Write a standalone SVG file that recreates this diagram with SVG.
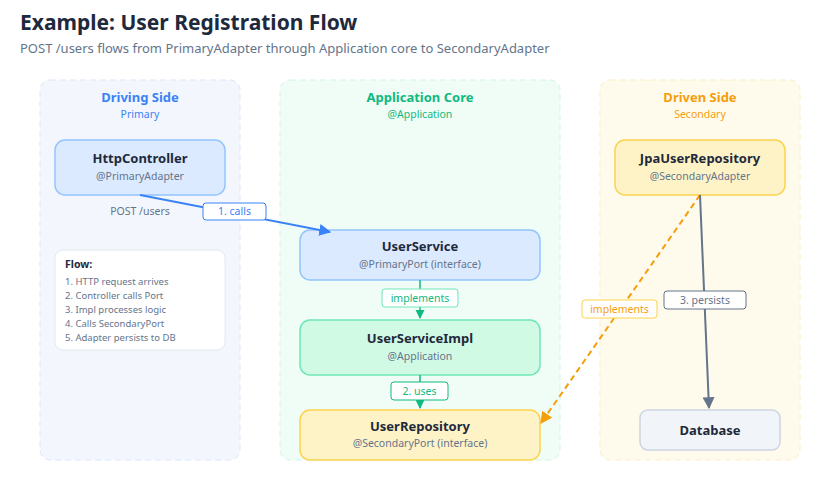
<svg xmlns="http://www.w3.org/2000/svg" width="821" height="481" viewBox="0 0 821 481">
<style>
text{font-family:"Noto Sans","Open Sans",sans-serif}
.t{font-size:13px;font-weight:bold;fill:#1e293b;text-anchor:middle}
.s{font-size:10.5px;fill:#64748b;text-anchor:middle}
.lb{fill:#fff;stroke-width:1}
.lt{font-size:10.5px;text-anchor:middle}
</style>
<defs>
<marker id="mb" viewBox="0 0 10 10" refX="9" refY="5" markerWidth="6" markerHeight="6" orient="auto"><path d="M0,0L10,5L0,10z" fill="#3b82f6"/></marker>
<marker id="mg" viewBox="0 0 10 10" refX="9" refY="5" markerWidth="6" markerHeight="7" orient="auto"><path d="M0,0L10,5L0,10z" fill="#10b981"/></marker>
<marker id="mo" viewBox="0 0 10 10" refX="9" refY="5" markerWidth="6" markerHeight="6" orient="auto"><path d="M0,0L10,5L0,10z" fill="#f59e0b"/></marker>
<marker id="ms" viewBox="0 0 10 10" refX="9" refY="5" markerWidth="6" markerHeight="6" orient="auto"><path d="M0,0L10,5L0,10z" fill="#64748b"/></marker>
</defs>
<rect width="821" height="481" fill="#fff"/>
<text x="20" y="30" style="font-size:21px;font-weight:bold;fill:#1e293b">Example: User Registration Flow</text>
<text x="20" y="53" style="font-size:13px;fill:#64748b">POST /users flows from PrimaryAdapter through Application core to SecondaryAdapter</text>

<g id="driving">
<rect x="40" y="80" width="200" height="380" rx="10" fill="#f3f7fd" stroke="#dbe7f8" stroke-dasharray="6 4"/>
<text x="140" y="102" class="t" style="fill:#3b82f6">Driving Side</text>
<text x="140" y="118" class="s" style="fill:#3b82f6">Primary</text>
</g>
<g id="core">
<rect x="280" y="80" width="280" height="380" rx="10" fill="#f0fdf6" stroke="#d1f5e4" stroke-dasharray="6 4"/>
<text x="420" y="102" class="t" style="fill:#10b981">Application Core</text>
<text x="420" y="118" class="s" style="fill:#10b981">@Application</text>
</g>
<g id="driven">
<rect x="600" y="80" width="200" height="380" rx="10" fill="#fefbed" stroke="#fbeec5" stroke-dasharray="6 4"/>
<text x="700" y="102" class="t" style="fill:#f59e0b">Driven Side</text>
<text x="700" y="118" class="s" style="fill:#f59e0b">Secondary</text>
</g>

<g id="HttpController">
<rect x="55" y="140" width="170" height="55" rx="10" fill="#dbeafe" stroke="#93c5fd" stroke-width="1.5"/>
<text x="140" y="163" class="t">HttpController</text>
<text x="140" y="180" class="s">@PrimaryAdapter</text>
</g>
<text x="140" y="215" class="s">POST /users</text>
<g id="flow">
<rect x="55" y="250" width="170" height="100" rx="8" fill="#fff" stroke="#e2e8f0"/>
<text x="65" y="268" style="font-size:10.5px;font-weight:bold;fill:#1e293b">Flow:</text>
<text x="65" y="285" style="font-size:9.5px;fill:#64748b">1. HTTP request arrives</text>
<text x="65" y="299" style="font-size:9.5px;fill:#64748b">2. Controller calls Port</text>
<text x="65" y="313" style="font-size:9.5px;fill:#64748b">3. Impl processes logic</text>
<text x="65" y="327" style="font-size:9.5px;fill:#64748b">4. Calls SecondaryPort</text>
<text x="65" y="341" style="font-size:9.5px;fill:#64748b">5. Adapter persists to DB</text>
</g>
<g id="UserService">
<rect x="300" y="230" width="240" height="50" rx="10" fill="#dbeafe" stroke="#93c5fd" stroke-width="1.5"/>
<text x="420" y="251" class="t">UserService</text>
<text x="420" y="268" class="s">@PrimaryPort (interface)</text>
</g>
<g id="UserServiceImpl">
<rect x="300" y="320" width="240" height="55" rx="10" fill="#d1fae5" stroke="#6ee7b7" stroke-width="1.5"/>
<text x="420" y="343" class="t">UserServiceImpl</text>
<text x="420" y="360" class="s">@Application</text>
</g>
<g id="UserRepository">
<rect x="300" y="410" width="240" height="50" rx="10" fill="#fef3c7" stroke="#fcd34d" stroke-width="1.5"/>
<text x="420" y="431" class="t">UserRepository</text>
<text x="420" y="447" class="s">@SecondaryPort (interface)</text>
</g>
<g id="JpaUserRepository">
<rect x="615" y="140" width="170" height="55" rx="10" fill="#fef3c7" stroke="#fcd34d" stroke-width="1.5"/>
<text x="700" y="163" class="t">JpaUserRepository</text>
<text x="700" y="180" class="s">@SecondaryAdapter</text>
</g>
<g id="Database">
<rect x="640" y="410" width="140" height="40" rx="8" fill="#f1f5f9" stroke="#cbd5e1" stroke-width="1.5"/>
<text x="710" y="435" class="t">Database</text>
</g>

<g id="connectors">
<line x1="140" y1="195" x2="330" y2="232" stroke="#3b82f6" stroke-width="2" marker-end="url(#mb)"/>
<rect x="203" y="203" width="63" height="17" rx="3" class="lb" stroke="#3b82f6"/>
<text x="234.5" y="215" class="lt" fill="#3b82f6">1. calls</text>

<line x1="420" y1="280" x2="420" y2="318" stroke="#10b981" stroke-width="1.5" marker-end="url(#mg)"/>
<rect x="382" y="289" width="76" height="18" rx="3" class="lb" stroke="#6ee7b7"/>
<text x="420" y="302" class="lt" fill="#10b981">implements</text>

<line x1="420" y1="375" x2="420" y2="408" stroke="#10b981" stroke-width="1.5" marker-end="url(#mg)"/>
<rect x="391" y="382" width="57" height="18" rx="3" class="lb" stroke="#10b981"/>
<text x="419.5" y="395" class="lt" fill="#10b981">2. uses</text>

<line x1="700" y1="195" x2="541" y2="423" stroke="#f59e0b" stroke-width="2" stroke-dasharray="6 4" marker-end="url(#mo)"/>
<rect x="582" y="300" width="75" height="18" rx="3" class="lb" stroke="#fcd34d"/>
<text x="619.5" y="313" class="lt" fill="#f59e0b">implements</text>

<line x1="700" y1="195" x2="709" y2="408" stroke="#64748b" stroke-width="2" marker-end="url(#ms)"/>
<rect x="664" y="291" width="82" height="18" rx="3" class="lb" stroke="#64748b"/>
<text x="705" y="304" class="lt" fill="#64748b">3. persists</text>
</g>
</svg>
